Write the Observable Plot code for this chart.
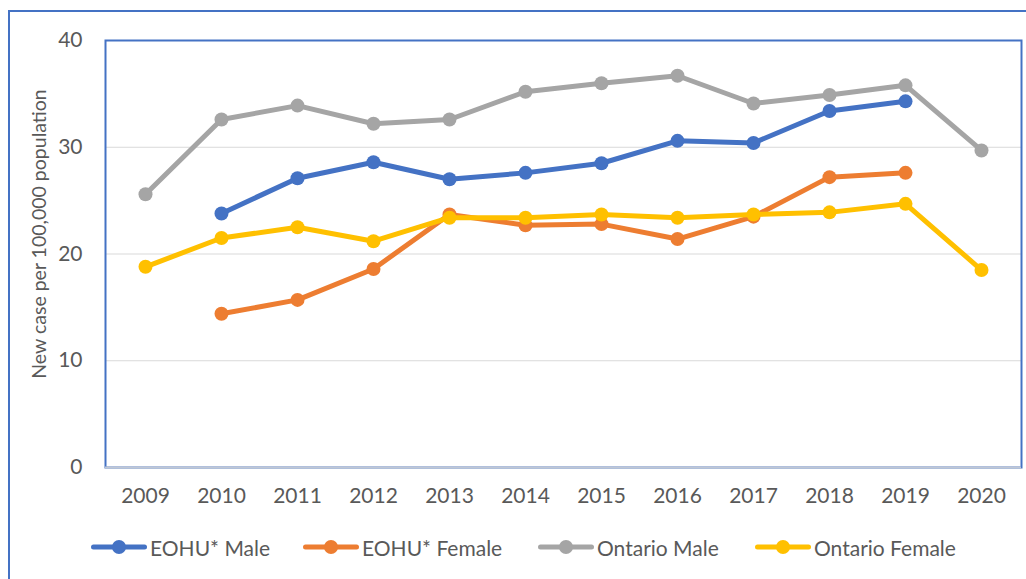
<!DOCTYPE html>
<html><head><meta charset="utf-8">
<script src="https://cdn.jsdelivr.net/npm/d3@7"></script>
<script src="https://cdn.jsdelivr.net/npm/@observablehq/plot@0.6"></script>
<style>
body{margin:0;background:#fff;overflow:hidden;font-family:Lato,"Open Sans",sans-serif;}
#wrap{position:relative;width:1026px;height:579px;overflow:hidden;}
#outer{position:absolute;left:8px;top:10px;width:1100px;height:700px;border:2px solid #4472C4;box-sizing:border-box;}
#chart{position:absolute;left:0;top:0;}
#ylabel{position:absolute;left:38px;top:234px;transform:translate(-50%,-50%) rotate(-90deg);white-space:nowrap;font-size:19.5px;color:#595959;}
#legend{position:absolute;top:533px;left:0;width:1026px;height:28px;}
.item{position:absolute;top:0;display:flex;align-items:center;height:28px;font-size:21px;color:#595959;}
.item svg{margin-right:3px;}
</style>
</head><body>
<div id="wrap">
<div id="outer"></div>
<div id="chart"></div>
<div id="ylabel">New case per 100,000 population</div>
<div id="legend"></div>
</div>
<script>
const years = [2009, 2010, 2011, 2012, 2013, 2014, 2015, 2016, 2017, 2018, 2019, 2020];
const seriesNames = ["EOHU* Male", "EOHU* Female", "Ontario Male", "Ontario Female"];
const seriesColors = ["#4472C4", "#ED7D31", "#A5A5A5", "#FFC000"];
const eohuMale = [null, 23.8, 27.1, 28.6, 27.0, 27.6, 28.5, 30.6, 30.4, 33.4, 34.3, null];
const eohuFemale = [null, 14.4, 15.7, 18.6, 23.7, 22.7, 22.8, 21.4, 23.5, 27.2, 27.6, null];
const ontarioMale = [25.6, 32.6, 33.9, 32.2, 32.6, 35.2, 36.0, 36.7, 34.1, 34.9, 35.8, 29.7];
const ontarioFemale = [18.8, 21.5, 22.5, 21.2, 23.4, 23.4, 23.7, 23.4, 23.7, 23.9, 24.7, 18.5];
const yTicks = [0, 10, 20, 30, 40];

const allSeries = [eohuMale, eohuFemale, ontarioMale, ontarioFemale];
const rows = [];
allSeries.forEach((vals, i) => {
  vals.forEach((v, j) => { if (v != null) rows.push({year: years[j], value: v, series: seriesNames[i]}); });
});

const marks = [
  Plot.gridY(yTicks.filter(d => d > 0), {stroke: "#D9D9D9", strokeOpacity: 1, strokeWidth: 1}),
  Plot.axisY(yTicks, {tickSize: 0, tickPadding: 23, fontSize: 21, fill: "#595959", label: null}),
  Plot.axisX(years, {tickSize: 0, tickPadding: 21, fontSize: 21, fill: "#595959", label: null, tickFormat: d => String(d)}),
  Plot.frame({stroke: "#4472C4", strokeWidth: 2}),
  Plot.ruleY([0], {stroke: "#BFC7D5", strokeWidth: 2})
];
seriesNames.forEach((name, i) => {
  const data = rows.filter(r => r.series === name);
  marks.push(Plot.line(data, {x: "year", y: "value", stroke: seriesColors[i], strokeWidth: 5, strokeLinejoin: "round", strokeLinecap: "round"}));
  marks.push(Plot.dot(data, {x: "year", y: "value", r: 7, fill: seriesColors[i], stroke: "none"}));
});

const chart = Plot.plot({
  width: 1026,
  height: 579,
  marginLeft: 105,
  marginRight: 5,
  marginTop: 40,
  marginBottom: 112,
  style: {fontFamily: "Lato, 'Open Sans', sans-serif", background: "transparent", overflow: "visible"},
  x: {type: "point", domain: years, padding: 0.5},
  y: {domain: [0, 40]},
  marks
});
document.getElementById("chart").appendChild(chart);

const legendX = [91, 303, 538, 755];
const legend = document.getElementById("legend");
seriesNames.forEach((name, i) => {
  const d = document.createElement("div");
  d.className = "item";
  d.style.left = legendX[i] + "px";
  d.innerHTML = `<svg width="56" height="16"><line x1="2.5" y1="8" x2="53.5" y2="8" stroke="${seriesColors[i]}" stroke-width="5" stroke-linecap="round"/><circle cx="28" cy="8" r="7" fill="${seriesColors[i]}"/></svg><span>${name}</span>`;
  legend.appendChild(d);
});
</script>
</body></html>
